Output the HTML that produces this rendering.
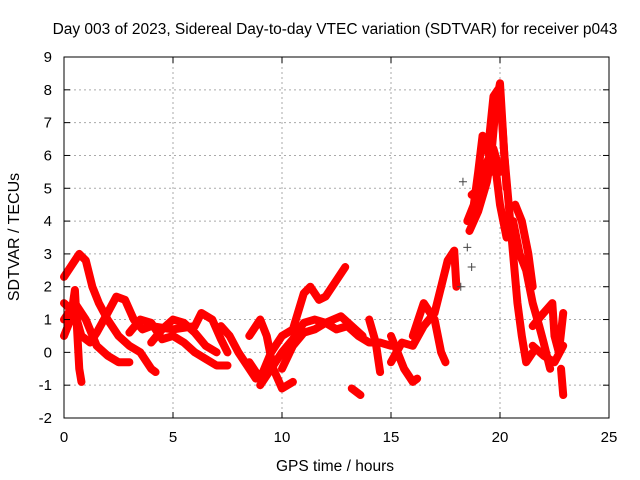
<!DOCTYPE html>
<html><head><meta charset="utf-8"><style>
body{margin:0;background:#fff;}
svg{display:block;font-family:"Liberation Sans",sans-serif;}
</style></head><body>
<svg id="chart" width="640" height="480" viewBox="0 0 640 480">
<rect x="0" y="0" width="640" height="480" fill="#fff"/>
<text x="335" y="34" font-size="15.5" text-anchor="middle">Day 003 of 2023, Sidereal Day-to-day VTEC variation (SDTVAR) for receiver p043</text>
<text transform="translate(19,237) rotate(-90)" font-size="16" text-anchor="middle">SDTVAR / TECUs</text>
<text x="335" y="471" font-size="15.5" text-anchor="middle">GPS time / hours</text>
<g id="grid"></g><g id="marks"></g><g id="axes"></g>
</svg>
<script>
const xTicks=[0,5,10,15,20,25];
const yTicks=[-2,-1,0,1,2,3,4,5,6,7,8,9];
const tracks=[
[[0,2.3],[0.3,2.6],[0.7,3.0],[1.0,2.8],[1.3,2.0],[1.6,1.5],[2,1.0],[2.5,0.5],[3,0.2],[3.5,0.0],[4,-0.5],[4.2,-0.6]],
[[0,1.5],[0.5,1.2],[0.8,0.5],[1.2,0.3],[1.5,0.6],[2,1.2],[2.4,1.7],[2.8,1.6],[3.2,1.0],[3.6,0.7],[4,0.8],[5,0.7],[6,0.8],[6.3,1.2],[6.8,1.0],[7.2,0.4],[7.5,0.0]],
[[0,0.5],[0.3,1.0],[0.5,1.9],[0.7,-0.5],[0.8,-0.9]],
[[0,1.0],[0.5,1.5],[1,1.0],[1.5,0.2],[2,-0.1],[2.5,-0.3],[3,-0.3]],
[[3,0.6],[3.5,1.0],[4,0.9],[4.5,0.4],[5,0.5],[5.5,0.3],[6,0.0],[6.5,-0.2],[7,-0.4],[7.5,-0.4]],
[[4,0.3],[4.5,0.7],[5,1.0],[5.5,0.9],[6,0.6],[6.5,0.2],[7,0.0]],
[[7.2,0.8],[7.6,0.5],[8,0.0],[8.5,-0.5],[8.8,-0.8]],
[[8.5,0.5],[9,1.0],[9.3,0.5],[9.6,-0.5],[10,-1.1],[10.5,-0.9]],
[[8.5,-0.3],[9,-0.8],[9.5,0.0],[10,0.5],[10.5,0.7],[11,1.8],[11.3,2.0],[11.7,1.6],[12,1.7],[12.5,2.2],[12.9,2.6]],
[[9,-1.0],[9.5,-0.5],[10,0.0],[10.5,0.4],[11,0.9],[11.5,1.0],[12,0.9],[12.5,0.7],[13,0.8],[13.5,0.5],[14,0.3],[14.5,0.3],[15,0.2]],
[[10,-0.5],[10.5,0.2],[11,0.6],[11.5,0.7],[12,0.9],[12.7,1.1],[13.2,0.8],[13.7,0.5]],
[[13.2,-1.1],[13.6,-1.3]],
[[14,1.0],[14.3,0.3],[14.5,-0.6]],
[[15,0.5],[15.3,0.0],[15.6,-0.5],[16,-0.9],[16.2,-0.8]],
[[15,-0.3],[15.5,0.3],[16,0.2],[16.5,0.8],[17,1.2],[17.3,2.0],[17.6,2.8],[17.9,3.1],[18,2.0]],
[[16,0.5],[16.5,1.5],[17,1.0],[17.3,0.0],[17.5,-0.3]],
[[18.5,4.0],[18.8,4.5],[19,5.5],[19.2,6.6],[19.5,6.0],[19.7,5.5]],
[[18.6,3.7],[19,4.3],[19.4,5.2],[19.6,6.0],[19.8,7.5],[20,8.2],[20.2,6.0],[20.4,4.5],[20.6,3.0],[20.8,1.5],[21,0.5],[21.2,-0.3],[21.5,0.0]],
[[19.5,6.5],[19.7,7.8],[19.9,8.0],[20.1,7.0],[20.3,5.0]],
[[18.7,4.8],[19.1,5.0],[19.4,5.8],[19.7,6.2],[20,5.5]],
[[19.8,5.6],[20,4.5],[20.3,3.5],[20.6,4.0],[20.9,3.0],[21.2,2.5],[21.5,1.5],[21.8,0.8],[22,0.3],[22.3,-0.5]],
[[20.7,4.5],[21,4.0],[21.3,3.0],[21.5,2.0]],
[[21.5,0.8],[22,1.2],[22.4,1.5],[22.5,0.5],[22.7,0.0],[22.9,1.2]],
[[22.8,-0.5],[22.9,-1.3]],
[[21.5,0.2],[22,-0.1],[22.5,-0.3],[22.9,0.2]]
];
const outliers=[[18.3,5.2],[18.5,3.2],[18.7,2.6],[18.2,2.0]];
const X0=64,X1=609,Y0=418,Y1=57;
const xs=t=>X0+(t-0)/(25-0)*(X1-X0);
const ys=v=>Y0-(v+2)/(9+2)*(Y0-Y1);
const NS="http://www.w3.org/2000/svg";
const grid=document.getElementById('grid'),marks=document.getElementById('marks'),axes=document.getElementById('axes');
function mk(tag,attrs,parent){const e=document.createElementNS(NS,tag);for(const k in attrs)e.setAttribute(k,attrs[k]);parent.appendChild(e);return e;}
xTicks.forEach(t=>{
 if(t>0&&t<25){const g=mk('line',{x1:xs(t),x2:xs(t),y1:Y1,y2:Y0,stroke:'#aaa','stroke-dasharray':'2,3'},grid);
 
 }
 const l=mk('text',{x:xs(t),y:Y0+24,'font-size':15,'text-anchor':'middle'},axes);l.textContent=t;
 
 
 mk('line',{x1:xs(t),x2:xs(t),y1:Y0,y2:Y0-6,stroke:'#000'},axes);
 mk('line',{x1:xs(t),x2:xs(t),y1:Y1,y2:Y1+6,stroke:'#000'},axes);
});
yTicks.forEach(v=>{
 if(v>-2&&v<9){const g=mk('line',{x1:X0,x2:X1,y1:ys(v),y2:ys(v),stroke:'#aaa','stroke-dasharray':'2,3'},grid);
 
 }
 const l=mk('text',{x:X0-12,y:ys(v)+5,'font-size':15,'text-anchor':'end'},axes);l.textContent=v;
 
 
 mk('line',{x1:X0,x2:X0+6,y1:ys(v),y2:ys(v),stroke:'#000'},axes);
 mk('line',{x1:X1,x2:X1-6,y1:ys(v),y2:ys(v),stroke:'#000'},axes);
});
const fr=mk('rect',{x:X0,y:Y1,width:X1-X0,height:Y0-Y1,fill:'none',stroke:'#000'},axes);


tracks.forEach(tr=>{
 const p=mk('polyline',{points:tr.map(d=>xs(d[0])+','+ys(d[1])).join(' '),fill:'none',stroke:'#f00','stroke-width':8,'stroke-linejoin':'round','stroke-linecap':'round'},marks);
 
 
});
function plus(d,col){const x=xs(d[0]),y=ys(d[1]);
 const p=mk('path',{d:`M${x-4},${y}H${x+4}M${x},${y-4}V${y+4}`,stroke:col,'stroke-width':1},marks);
 
 }
outliers.forEach(d=>plus(d,'#444'));
</script>
</body></html>
